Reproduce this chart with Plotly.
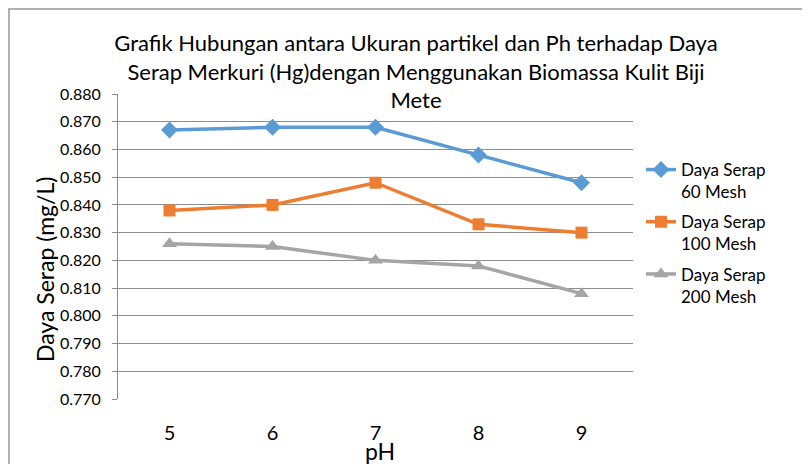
import plotly.graph_objects as go

ph = ["5", "6", "7", "8", "9"]
mesh60 = [0.867, 0.868, 0.868, 0.858, 0.848]
mesh100 = [0.838, 0.840, 0.848, 0.833, 0.830]
mesh200 = [0.826, 0.825, 0.820, 0.818, 0.808]
names = ["Daya Serap<br>60 Mesh", "Daya Serap<br>100 Mesh", "Daya Serap<br>200 Mesh"]
yticks = [0.77 + 0.01 * i for i in range(12)]

FONT = "Lato"
W, H = 802, 456
L, R, T, B = 110, 177, 86, 65
PW = W - L - R
PH = H - T - B


def px(x):
    return (x - L) / PW


def py(y):
    return 1 - (y - T) / PH


fig = go.Figure()
styles = [
    ("#5B9BD5", "diamond", 13),
    ("#ED7D31", "square", 12),
    ("#A5A5A5", "triangle-up", 13),
]
for i, (name, ys, (c, sym, sz)) in enumerate(zip(names, [mesh60, mesh100, mesh200], styles)):
    fig.add_trace(go.Scatter(
        x=ph, y=ys, name=name, mode="lines+markers", legendgroup=str(i),
        line=dict(color=c, width=3.5),
        marker=dict(symbol=sym, size=sz, color=c),
    ))

fig.update_layout(
    width=W, height=H,
    margin=dict(l=L, r=R, t=T, b=B),
    paper_bgcolor="white", plot_bgcolor="white",
    font=dict(family=FONT, color="black"),
    title=dict(
        text="Grafik Hubungan antara Ukuran partikel dan Ph terhadap Daya<br>Serap Merkuri (Hg)dengan Menggunakan Biomassa Kulit Biji<br>Mete",
        x=408 / W, xanchor="center", y=1 - 43 / H, yanchor="top", yref="container",
        font=dict(size=22, family=FONT, color="black"),
    ),
    xaxis=dict(
        type="category", range=[-0.5, 4.5],
        showgrid=False, showline=False, zeroline=False,
        tickfont=dict(size=20, family=FONT, color="black"),
        ticks="", ticklabelstandoff=20,
    ),
    yaxis=dict(
        range=[0.77, 0.88], tickvals=yticks, tickformat=".3f",
        showgrid=True, gridcolor="#8C8C8C", gridwidth=1,
        showline=True, linecolor="#8C8C8C", linewidth=1,
        ticks="outside", ticklen=5, tickcolor="#8C8C8C",
        zeroline=False, ticklabelstandoff=8,
        tickfont=dict(size=16, family=FONT, color="black"),
    ),
    legend=dict(
        x=px(633), y=py(144), xanchor="left", yanchor="top",
        font=dict(size=17, family=FONT, color="black"),
        tracegroupgap=5, valign="top", bgcolor="rgba(0,0,0,0)",
        traceorder="grouped",
    ),
    annotations=[
        dict(text="Daya Serap (mg/L)", xref="paper", yref="paper",
             x=px(37), y=py(262), xanchor="center", yanchor="middle",
             textangle=-90, showarrow=False,
             font=dict(size=23, family=FONT, color="black")),
        dict(text="pH", xref="paper", yref="paper",
             x=px(372), y=py(443), xanchor="center", yanchor="middle",
             showarrow=False, font=dict(size=23, family=FONT, color="black")),
    ],
    shapes=[dict(
        type="rect", xref="paper", yref="paper",
        x0=px(1), x1=px(W + 30),
        y0=py(H + 30), y1=py(1),
        line=dict(color="#B0B0B0", width=2), layer="below",
    )],
)

fig.write_html("out.html")
